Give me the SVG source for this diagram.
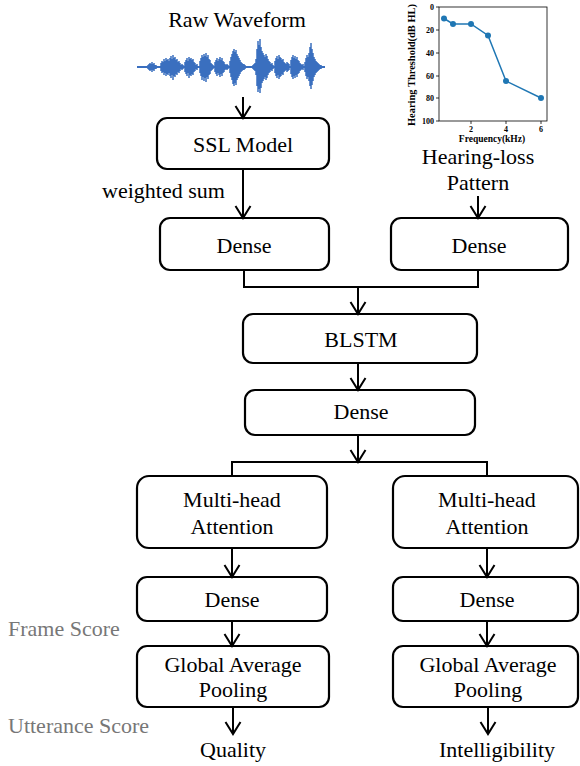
<svg xmlns="http://www.w3.org/2000/svg" width="580" height="766" viewBox="0 0 580 766">
<style>
.box{fill:#fff;stroke:#000;stroke-width:2.2}
.t{font-family:"Liberation Serif","Times New Roman",serif;font-size:22px;fill:#000;text-anchor:middle}
.ts{font-family:"Liberation Serif","Times New Roman",serif;font-size:22px;fill:#000;text-anchor:start}
.g{font-family:"Liberation Serif","Times New Roman",serif;font-size:22px;fill:#777}
.c{fill:none;stroke:#000;stroke-width:2}
.ax{fill:none;stroke:#000;stroke-width:0.8}
.tk{font-family:"Liberation Serif","Times New Roman",serif;font-weight:bold;fill:#000}
.wave{fill:none;stroke:#3a6fbf;stroke-width:1.5}
</style>
<defs>
<marker id="ah" viewBox="0 0 16 18" markerWidth="16" markerHeight="18" refX="13" refY="9" orient="auto" markerUnits="userSpaceOnUse">
<path d="M1,1.5 L13,9 L1,16.5" fill="none" stroke="#000" stroke-width="2"/>
</marker>
</defs>

<!-- Raw waveform -->
<g id="raw-waveform">
<text class="t" x="237" y="27">Raw Waveform</text>
<line x1="137" y1="67" x2="325" y2="67" stroke="#3a6fbf" stroke-width="2"/>
<path class="wave" d="M148,65V69M149,64V70M150,63V71M151,64V70M152,62V72M153,64V70M154,63V71M155,65V69M156,65V69
M161,63V71M162,61V73M163,62V72M164,59V75M165,61V73M166,58V76M167,60V74M168,59V75M169,61V73M170,58V76M171,56V78M172,59V75M173,55V80M174,58V76M175,57V77M176,60V74M177,59V75M178,62V72M179,61V73M180,63V71M181,65V69M182,64V70M183,65V69
M185,62V72M186,60V74M187,58V76M188,61V73M189,57V78M190,59V75M191,58V76M192,60V74M193,59V75M194,62V72M195,63V71M196,65V69M197,64V70
M200,61V73M201,58V76M202,55V80M203,57V77M204,54V81M205,56V78M206,53V82M207,57V77M208,55V79M209,59V75M210,60V74M211,63V71M212,64V70M213,65V69
M215,62V72M216,60V74M217,58V76M218,61V73M219,59V75M220,57V77M221,60V74M222,58V76M223,61V73M224,62V72M225,64V70M226,65V69M227,64V70M228,65V69
M230,61V73M231,57V77M232,54V80M233,51V84M234,49V86M235,52V83M236,50V85M237,54V80M238,56V78M239,58V76M240,60V74M241,62V72M242,63V71M243,64V70M244,64V70M245,65V69
M253,65V69M254,64V70M255,63V71M256,59V75M257,49V86M258,41V92M259,45V89M260,39V93M261,47V88M262,51V83M263,53V81M264,55V79M265,57V77M266,54V80M267,56V78M268,59V75M269,61V73M270,62V72M271,64V70M272,63V71M273,65V69
M275,61V73M276,58V76M277,56V78M278,59V75M279,55V79M280,57V77M281,58V76M282,60V74M283,59V75M284,62V72M285,63V71M286,64V70M287,62V72M288,63V71M289,64V70
M291,60V74M292,57V77M293,55V79M294,58V76M295,56V78M296,59V75M297,57V77M298,60V74M299,61V73M300,63V71M301,64V70M302,65V69M303,64V70
M305,62V72M306,58V76M307,55V79M308,57V77M309,53V81M310,47V86M311,43V89M312,49V85M313,53V81M314,57V77M315,59V75M316,61V73M317,62V72M318,63V71M319,64V70M320,65V69M321,65V69"/>
</g>

<!-- Hearing-loss chart -->
<g id="hearing-loss-chart">
<rect class="ax" x="439" y="7" width="108" height="114"/>
<path class="ax" d="M439,7h-3M439,30h-3M439,53h-3M439,76h-3M439,98h-3M439,121h-3M471,121v3M506,121v3M541,121v3"/>
<g class="tk" text-anchor="end" style="font-size:8px">
<text x="434" y="10">0</text>
<text x="434" y="33">20</text>
<text x="434" y="56">40</text>
<text x="434" y="79">60</text>
<text x="434" y="101">80</text>
<text x="434" y="124">100</text>
</g>
<g class="tk" text-anchor="middle" style="font-size:8px">
<text x="471" y="132">2</text>
<text x="506" y="132">4</text>
<text x="541" y="132">6</text>
</g>
<text class="tk" x="492" y="142" text-anchor="middle" style="font-size:9.5px">Frequency(kHz)</text>
<text class="tk" transform="translate(415,65) rotate(-90)" text-anchor="middle" style="font-size:9.5px" textLength="122" lengthAdjust="spacingAndGlyphs">Hearing Threshold(dB HL)</text>
<polyline points="444,18.5 453,24 471,24 488,35.5 506,81 541,98" fill="none" stroke="#1f77b4" stroke-width="1.5"/>
<g fill="#1f77b4">
<circle cx="444" cy="18.5" r="3"/><circle cx="453" cy="24" r="3"/><circle cx="471" cy="24" r="3"/>
<circle cx="488" cy="35.5" r="3"/><circle cx="506" cy="81" r="3"/><circle cx="541" cy="98" r="3"/>
</g>
</g>

<g id="hearing-loss-label">
<text class="t" x="478" y="164">Hearing-loss</text>
<text class="t" x="478" y="190">Pattern</text>
</g>

<g id="ssl-model">
<rect class="box" x="157" y="118" width="172" height="51" rx="10"/>
<text class="t" x="243" y="152">SSL Model</text>
</g>
<g id="weighted-sum-label">
<text class="ts" x="102" y="198">weighted sum</text>
</g>
<g id="dense-ssl">
<rect class="box" x="160" y="218" width="169" height="52" rx="10"/>
<text class="t" x="244" y="253">Dense</text>
</g>
<g id="dense-hl">
<rect class="box" x="391" y="218" width="177" height="52" rx="10"/>
<text class="t" x="479" y="253">Dense</text>
</g>
<g id="blstm">
<rect class="box" x="243" y="314" width="234" height="49" rx="10"/>
<text class="t" x="361" y="347">BLSTM</text>
</g>
<g id="dense-mid">
<rect class="box" x="245" y="390" width="230" height="45" rx="10"/>
<text class="t" x="361" y="419">Dense</text>
</g>
<g id="mha-quality">
<rect class="box" x="137" y="476" width="190" height="72" rx="12"/>
<text class="t" x="232" y="507">Multi-head</text>
<text class="t" x="232" y="534">Attention</text>
</g>
<g id="mha-intel">
<rect class="box" x="393" y="476" width="185" height="72" rx="12"/>
<text class="t" x="487" y="507">Multi-head</text>
<text class="t" x="487" y="534">Attention</text>
</g>
<g id="dense-quality">
<rect class="box" x="137" y="577" width="190" height="44" rx="10"/>
<text class="t" x="232" y="607">Dense</text>
</g>
<g id="dense-intel">
<rect class="box" x="393" y="577" width="185" height="44" rx="10"/>
<text class="t" x="487" y="607">Dense</text>
</g>
<g id="gap-quality">
<rect class="box" x="137" y="646" width="192" height="61" rx="10"/>
<text class="t" x="233" y="672">Global Average</text>
<text class="t" x="233" y="697">Pooling</text>
</g>
<g id="gap-intel">
<rect class="box" x="393" y="646" width="185" height="61" rx="10"/>
<text class="t" x="488" y="672">Global Average</text>
<text class="t" x="488" y="697">Pooling</text>
</g>
<g id="quality">
<text class="t" x="233" y="757">Quality</text>
</g>
<g id="intelligibility">
<text class="t" x="497" y="757">Intelligibility</text>
</g>
<g id="score-labels">
<text class="g" x="8" y="636">Frame Score</text>
<text class="g" x="8" y="733">Utterance Score</text>
</g>

<g id="connectors">
<line class="c" x1="243" y1="97" x2="243" y2="118" marker-end="url(#ah)"/>
<line class="c" x1="243" y1="169" x2="243" y2="218" marker-end="url(#ah)"/>
<line class="c" x1="478" y1="196" x2="478" y2="218" marker-end="url(#ah)"/>
<polyline class="c" points="244,270 244,287 478,287 478,270"/>
<line class="c" x1="358" y1="287" x2="358" y2="314" marker-end="url(#ah)"/>
<line class="c" x1="358" y1="363" x2="358" y2="390" marker-end="url(#ah)"/>
<line class="c" x1="358" y1="435" x2="358" y2="462" marker-end="url(#ah)"/>
<polyline class="c" points="232,476 232,462 487,462 487,476"/>
<line class="c" x1="232" y1="548" x2="232" y2="577" marker-end="url(#ah)"/>
<line class="c" x1="487" y1="548" x2="487" y2="577" marker-end="url(#ah)"/>
<line class="c" x1="232" y1="621" x2="232" y2="646" marker-end="url(#ah)"/>
<line class="c" x1="487" y1="621" x2="487" y2="646" marker-end="url(#ah)"/>
<line class="c" x1="233" y1="707" x2="233" y2="734" marker-end="url(#ah)"/>
<line class="c" x1="488" y1="707" x2="488" y2="734" marker-end="url(#ah)"/>
</g>
</svg>
